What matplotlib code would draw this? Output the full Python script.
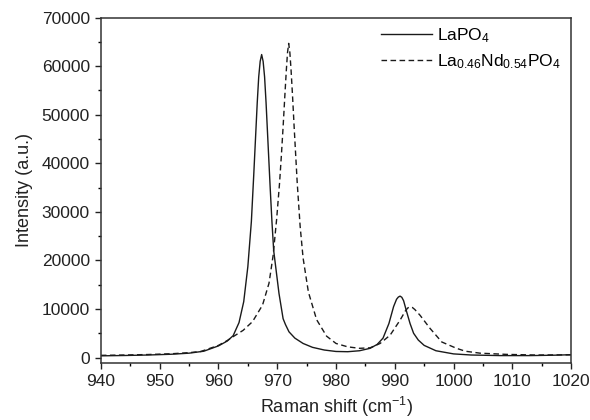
"""Raman spectra of LaPO4 and La0.46Nd0.54PO4 around the v1 band."""

import matplotlib

matplotlib.use("Agg")
import matplotlib.pyplot as plt
from matplotlib.ticker import MultipleLocator

plt.rcParams["font.family"] = ["Liberation Sans", "DejaVu Sans"]
plt.rcParams["mathtext.fontset"] = "custom"
plt.rcParams["mathtext.rm"] = "Liberation Sans"
plt.rcParams["mathtext.it"] = "Liberation Sans:italic"

# LaPO4 spectrum
shift_la = [940, 944, 948, 952, 955, 957.5, 960, 961.5, 962.5, 963.5, 964.3,
            965, 965.6, 966.0, 966.3, 966.6, 966.85, 967.1, 967.35, 967.6,
            967.85, 968.1, 968.4, 968.8, 969.1, 969.4, 970.3, 971, 971.4, 972,
            973, 974.4, 976, 978, 980, 982, 984, 985.8, 987, 988, 989, 989.8,
            990.3, 990.6, 990.9, 991.2, 991.5, 992, 992.6, 993.2, 994, 995,
            997, 1000, 1003, 1008, 1013, 1017, 1020]
int_la = [350, 420, 520, 680, 900, 1300, 2400, 3400, 4500, 7200, 11500,
          18700, 28000, 37500, 45000, 52500, 57800, 61000, 62400, 61000,
          57800, 52500, 45000, 35000, 28000, 22000, 13200, 8000, 6800, 5300,
          4000, 2900, 2100, 1550, 1250, 1200, 1400, 1900, 2700, 4000, 7000,
          10500, 12000, 12450, 12650, 12400, 11700, 9500, 7000, 5000, 3600,
          2500, 1400, 750, 520, 400, 400, 480, 580]

# La0.46Nd0.54PO4 spectrum
shift_nd = [940, 944, 948, 952, 955, 957, 960, 961.5, 962.5, 964.2, 965.8,
            967.5, 968.6, 969.3, 969.9, 970.4, 970.7, 971.0, 971.3, 971.55,
            971.75, 971.95, 972.15, 972.35, 972.6, 972.9, 973.4, 973.9, 974.4,
            975.3, 976.7, 978.4, 980, 982, 984, 985.8, 987.5, 989.2, 990.9,
            991.8, 992.2, 992.6, 993.0, 993.4, 994.3, 996, 998, 1000.5, 1002,
            1004.5, 1009, 1014, 1020]
int_nd = [450, 520, 620, 780, 1000, 1250, 2500, 3500, 4300, 5600, 7400,
          10800, 15300, 21000, 28500, 36000, 41500, 47500, 54000, 59200,
          62800, 64700, 62800, 59300, 54000, 47000, 36000, 27000, 20500,
          13500, 7800, 4400, 2900, 2200, 1900, 2000, 2900, 4600, 7700,
          9600, 10200, 10450, 10300, 9900, 8700, 6000, 3200, 1900, 1300,
          900, 650, 520, 560]


def main():
    fig = plt.figure(figsize=(5.9, 4.2), dpi=100)
    ax = fig.add_axes([0.171, 0.136, 0.797, 0.822])

    ax.plot(shift_la, int_la, color="#1a1a1a", lw=1.0, label="LaPO$_4$")
    ax.plot(shift_nd, int_nd, color="#1a1a1a", lw=1.0, ls=(0, (4, 2.5)),
            label="La$_{0.46}$Nd$_{0.54}$PO$_4$")

    ax.set_xlim(940, 1020)
    ax.set_ylim(-1100, 70000)
    ax.xaxis.set_major_locator(MultipleLocator(10))
    ax.xaxis.set_minor_locator(MultipleLocator(5))
    ax.yaxis.set_major_locator(MultipleLocator(10000))
    ax.yaxis.set_minor_locator(MultipleLocator(5000))
    ax.tick_params(which="major", direction="out", length=4.5, width=1.0,
                   labelsize=12.5, colors="#222222")
    ax.tick_params(which="minor", direction="out", length=2.5, width=1.0)
    for spine in ax.spines.values():
        spine.set_linewidth(1.1)
        spine.set_color("#333333")

    ax.set_xlabel("Raman shift (cm$^{-1}$)", fontsize=13, color="#222222",
                  labelpad=4)
    ax.set_ylabel("Intensity (a.u.)", fontsize=13, color="#222222",
                  labelpad=6)

    ax.legend(loc="upper right", bbox_to_anchor=(1.0, 1.005), frameon=False,
              fontsize=12.5, handlelength=2.9, handletextpad=0.3,
              labelspacing=0.4, borderaxespad=0.2)

    fig.savefig("out.png", dpi=100)


if __name__ == "__main__":
    main()
